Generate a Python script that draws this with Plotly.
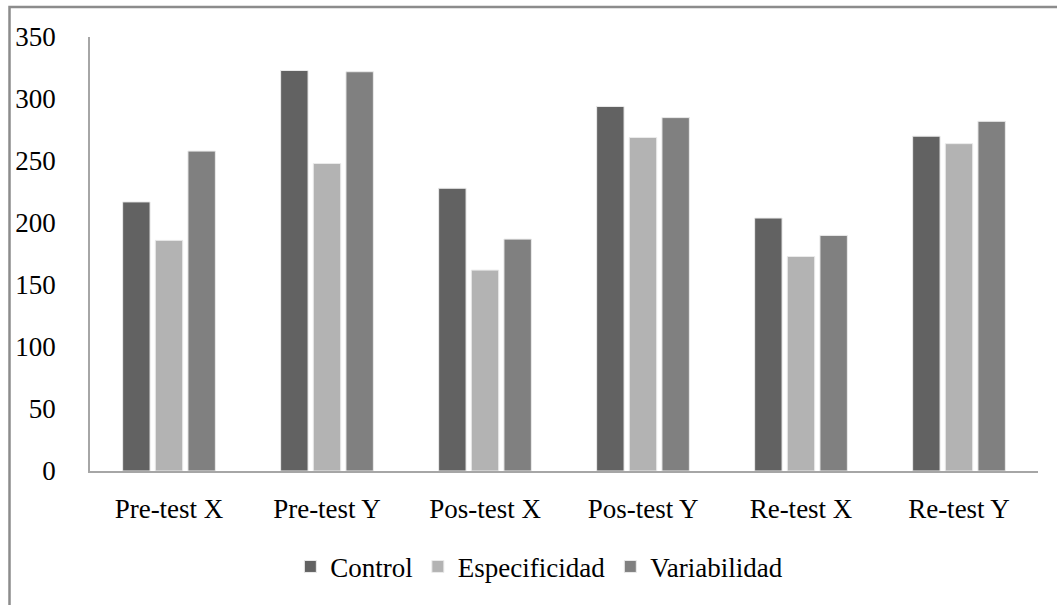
import plotly.graph_objs as go

# Datos
categorias = ["Pre-test X", "Pre-test Y", "Pos-test X", "Pos-test Y", "Re-test X", "Re-test Y"]
control = [217, 323, 228, 294, 204, 270]
especificidad = [186, 248, 162, 269, 173, 264]
variabilidad = [258, 322, 187, 285, 190, 282]

series = [
    ("Control", control, "#626262"),
    ("Especificidad", especificidad, "#b3b3b3"),
    ("Variabilidad", variabilidad, "#808080"),
]

serif = "Liberation Serif, Times New Roman, serif"

fig = go.Figure()

for nombre, valores, color in series:
    fig.add_trace(go.Bar(
        x=categorias,
        y=valores,
        name=nombre,
        marker_color=color,
        marker_line_color="rgba(235,235,235,1)",
        marker_line_width=1,
    ))

fig.update_layout(
    template="none",
    width=1057,
    height=605,
    margin=dict(l=90, r=19, t=37, b=134),
    barmode="group",
    bargap=0.38,
    bargroupgap=0.16,
    plot_bgcolor="white",
    paper_bgcolor="white",
    font=dict(family=serif, size=27, color="#000000"),
    showlegend=True,
    legend=dict(
        orientation="h",
        x=0.474,
        xanchor="center",
        y=-0.221,
        yanchor="middle",
        font=dict(family=serif, size=27, color="#000000"),
        itemwidth=30,
        bgcolor="rgba(0,0,0,0)",
    ),
    xaxis=dict(
        showline=True,
        linecolor="#a6a6a6",
        linewidth=1.5,
        ticks="",
        showgrid=False,
        zeroline=False,
        ticklabelstandoff=13,
        tickfont=dict(family=serif, size=27, color="#000000"),
        fixedrange=True,
    ),
    yaxis=dict(
        range=[0, 350],
        tickvals=[0, 50, 100, 150, 200, 250, 300, 350],
        showline=True,
        linecolor="#a6a6a6",
        linewidth=1.5,
        ticks="",
        showgrid=False,
        zeroline=False,
        ticklabelstandoff=27,
        tickfont=dict(family=serif, size=27, color="#000000"),
        fixedrange=True,
    ),
)

# Borde del área del gráfico (solo se ven los lados izquierdo y superior)
fig.add_shape(
    type="rect",
    xref="paper", yref="paper",
    x0=(9.5 - 90) / 948, x1=1.05,
    y0=-0.4, y1=(471 - 7) / 434,
    line=dict(color="#8c8c8c", width=2.5),
    layer="below",
)

# quitar el margen por defecto del <body>
fig.write_html(
    "out.html",
    config={"displayModeBar": False},
    post_script="document.body.style.margin='0';",
)
